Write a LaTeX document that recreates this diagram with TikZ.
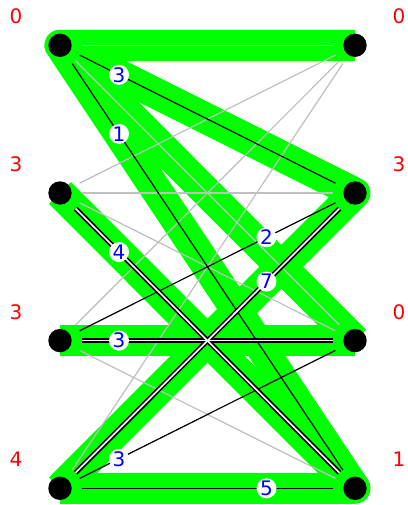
\documentclass[tikz,border=0pt]{standalone}
\usepackage{fontspec}
\setmainfont{DejaVu Sans}
\usetikzlibrary{calc,backgrounds}
\definecolor{hl}{RGB}{0,255,0}
\definecolor{lg}{RGB}{192,192,192}
\definecolor{pot}{RGB}{255,0,0}
\definecolor{wt}{RGB}{0,0,255}
\begin{document}
\begin{tikzpicture}[x=1pt,y=-1pt,
  vert/.style={circle,fill=black,minimum size=23.4pt,inner sep=0pt,outer sep=10.3pt},
  potl/.style={text=pot,font=\fontsize{20}{20}\selectfont,inner sep=0pt},
  wlab/.style={circle,fill=white,text=wt,font=\fontsize{20}{20}\selectfont,inner sep=0pt,minimum size=20pt},
  tight/.style={draw=hl,line width=31pt,line join=round},
  nonedge/.style={draw=lg,line width=1.2pt},
  wedge/.style={draw=black,line width=1.2pt},
  mblack/.style={draw=black,line width=5pt},
  mwhite/.style={draw=white,line width=1.6pt}]
\useasboundingbox (0,0) rectangle (407,505);
% vertices
\node[vert] (L0) at (60,45.3) {};
\node[vert] (L1) at (60,193) {};
\node[vert] (L2) at (60,340.6) {};
\node[vert] (L3) at (60,488.3) {};
\node[vert] (R0) at (355,45.3) {};
\node[vert] (R1) at (355,193) {};
\node[vert] (R2) at (355,340.6) {};
\node[vert] (R3) at (355,488.3) {};
\begin{scope}[on background layer]
\fill[white] (0,0) rectangle (407,505);
% tight edges
\draw[tight] (L3.center) -- (R1.center) -- (L0.center) -- (R0.center);
\draw[tight] (L3.center) -- (R3.center) -- (L0.center) -- (R2.center);
\draw[tight] (R2.center) -- (L2.center);
\draw[tight] (L1.center) -- (R3.center);
% non-edges
\draw[nonedge] (L0) -- (R0);
\draw[nonedge] (L0) -- (R2);
\draw[nonedge] (L1) -- (R0);
\draw[nonedge] (L1) -- (R1);
\draw[nonedge] (L1) -- (R2);
\draw[nonedge] (L2) -- (R0);
\draw[nonedge] (L2) -- (R3);
\draw[nonedge] (L3) -- (R0);
% weighted edges
\draw[wedge] (L0) -- (R1);
\draw[wedge] (L0) -- (R3);
\draw[wedge] (L2) -- (R1);
\draw[wedge] (L3) -- (R2);
\draw[wedge] (L3) -- (R3);
% matching
\draw[mblack] (L1) -- (R3);
\draw[mblack] (L2) -- (R2);
\draw[mblack] (L3) -- (R1);
\draw[mwhite] (L1) -- (R3);
\draw[mwhite] (L2) -- (R2);
\draw[mwhite] (L3) -- (R1);
\end{scope}
% weight labels
\node[wlab] (w01) at ($(L0.center)!0.2!(R1.center)$) {3};
\node[wlab] (w03) at ($(L0.center)!0.2!(R3.center)$) {1};
\node[wlab] (w13) at ($(L1.center)!0.2!(R3.center)$) {4};
\node[wlab] (w21) at ($(L2.center)!0.7!(R1.center)$) {2};
\node[wlab] (w22) at ($(L2.center)!0.2!(R2.center)$) {3};
\node[wlab] (w31) at ($(L3.center)!0.7!(R1.center)$) {7};
\node[wlab] (w32) at ($(L3.center)!0.2!(R2.center)$) {3};
\node[wlab] (w33) at ($(L3.center)!0.7!(R3.center)$) {5};
% potentials
\node[potl] (pL0) at (16,16.7) {0};
\node[potl] (pL1) at (16,164.4) {3};
\node[potl] (pL2) at (16,312) {3};
\node[potl] (pL3) at (16,459.7) {4};
\node[potl] (pR0) at (399,16.7) {0};
\node[potl] (pR1) at (399,164.4) {3};
\node[potl] (pR2) at (399,312) {0};
\node[potl] (pR3) at (399,459.7) {1};
\end{tikzpicture}
\end{document}
